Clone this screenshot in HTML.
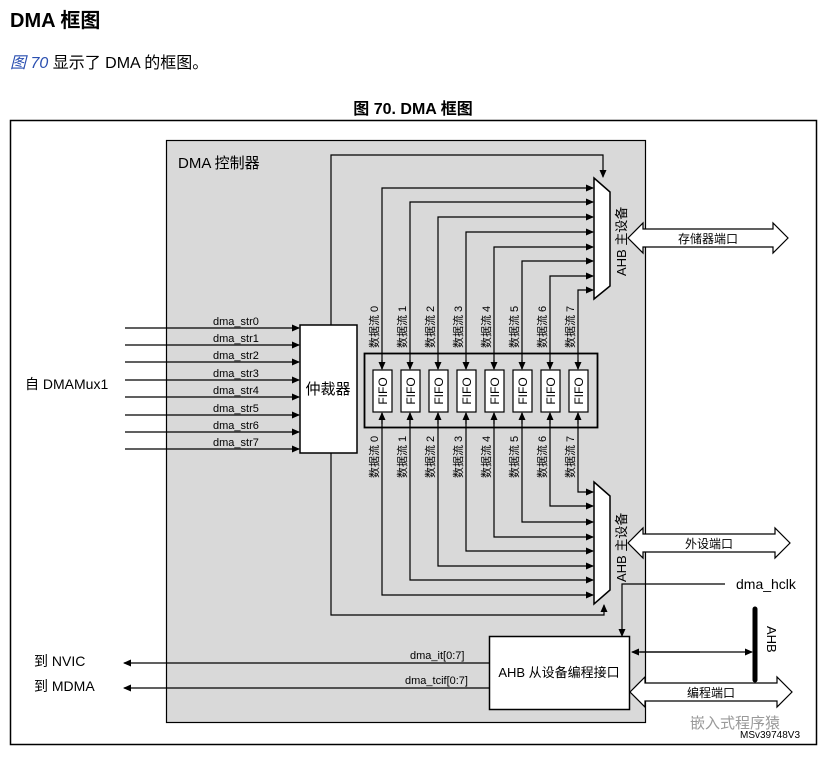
<!DOCTYPE html>
<html><head><meta charset="utf-8"><style>
body{margin:0;background:#fff;width:837px;height:758px;overflow:hidden}
svg text{font-family:"Liberation Sans","Noto Sans CJK SC",sans-serif}
</style></head><body>
<svg width="837" height="758" viewBox="0 0 837 758" xmlns="http://www.w3.org/2000/svg">
<defs>
<marker id="a" markerWidth="8" markerHeight="8" refX="7" refY="4" orient="auto" markerUnits="userSpaceOnUse"><path d="M0,0.5 L8,4 L0,7.5z" fill="#000"/></marker>
</defs>
<text x="10" y="27" font-size="20" font-weight="bold">DMA 框图</text>
<text x="10" y="68" font-size="16"><tspan fill="#2a4fb0" font-style="italic">图 70</tspan> 显示了 DMA 的框图。</text>
<text x="413" y="114" font-size="16" font-weight="bold" text-anchor="middle">图 70. DMA 框图</text>
<rect x="10.5" y="120.5" width="806" height="624" fill="#fff" stroke="#000" stroke-width="1.5"/>
<rect x="166.5" y="140.5" width="479" height="582" fill="#d9d9d9" stroke="#000" stroke-width="1.2"/>
<text x="178" y="168" font-size="15">DMA 控制器</text>
<g stroke="#000" stroke-width="1.2" fill="none">
<line x1="125" y1="328" x2="299" y2="328" marker-end="url(#a)"/>
<line x1="125" y1="345" x2="299" y2="345" marker-end="url(#a)"/>
<line x1="125" y1="362" x2="299" y2="362" marker-end="url(#a)"/>
<line x1="125" y1="380" x2="299" y2="380" marker-end="url(#a)"/>
<line x1="125" y1="397" x2="299" y2="397" marker-end="url(#a)"/>
<line x1="125" y1="415" x2="299" y2="415" marker-end="url(#a)"/>
<line x1="125" y1="432" x2="299" y2="432" marker-end="url(#a)"/>
<line x1="125" y1="449" x2="299" y2="449" marker-end="url(#a)"/>
<path d="M331,325 V155 H603 V177" marker-end="url(#a)"/>
<path d="M331,453 V615 H604 V605" marker-end="url(#a)"/>
<path d="M382,369 V188 H593" marker-end="url(#a)"/>
<path d="M410,369 V202 H593" marker-end="url(#a)"/>
<path d="M438,369 V217 H593" marker-end="url(#a)"/>
<path d="M466,369 V232 H593" marker-end="url(#a)"/>
<path d="M494,369 V247 H593" marker-end="url(#a)"/>
<path d="M522,369 V261 H593" marker-end="url(#a)"/>
<path d="M550,369 V276 H593" marker-end="url(#a)"/>
<path d="M578,369 V290 H593" marker-end="url(#a)"/>
<line x1="382" y1="360" x2="382" y2="369" marker-end="url(#a)"/>
<line x1="410" y1="360" x2="410" y2="369" marker-end="url(#a)"/>
<line x1="438" y1="360" x2="438" y2="369" marker-end="url(#a)"/>
<line x1="466" y1="360" x2="466" y2="369" marker-end="url(#a)"/>
<line x1="494" y1="360" x2="494" y2="369" marker-end="url(#a)"/>
<line x1="522" y1="360" x2="522" y2="369" marker-end="url(#a)"/>
<line x1="550" y1="360" x2="550" y2="369" marker-end="url(#a)"/>
<line x1="578" y1="360" x2="578" y2="369" marker-end="url(#a)"/>
<path d="M382,413 V595 H593" marker-end="url(#a)"/>
<path d="M410,413 V580 H593" marker-end="url(#a)"/>
<path d="M438,413 V566 H593" marker-end="url(#a)"/>
<path d="M466,413 V551 H593" marker-end="url(#a)"/>
<path d="M494,413 V537 H593" marker-end="url(#a)"/>
<path d="M522,413 V522 H593" marker-end="url(#a)"/>
<path d="M550,413 V506 H593" marker-end="url(#a)"/>
<path d="M578,413 V492 H593" marker-end="url(#a)"/>
<line x1="382" y1="424" x2="382" y2="413" marker-end="url(#a)"/>
<line x1="410" y1="424" x2="410" y2="413" marker-end="url(#a)"/>
<line x1="438" y1="424" x2="438" y2="413" marker-end="url(#a)"/>
<line x1="466" y1="424" x2="466" y2="413" marker-end="url(#a)"/>
<line x1="494" y1="424" x2="494" y2="413" marker-end="url(#a)"/>
<line x1="522" y1="424" x2="522" y2="413" marker-end="url(#a)"/>
<line x1="550" y1="424" x2="550" y2="413" marker-end="url(#a)"/>
<line x1="578" y1="424" x2="578" y2="413" marker-end="url(#a)"/>
<path d="M725,584 H622 V636" marker-end="url(#a)"/>
<line x1="489" y1="663" x2="124" y2="663" marker-end="url(#a)"/>
<line x1="489" y1="688" x2="124" y2="688" marker-end="url(#a)"/>
<line x1="640" y1="652" x2="752" y2="652" marker-end="url(#a)"/>
<line x1="700" y1="652" x2="632" y2="652" marker-end="url(#a)"/>
</g>
<rect x="300" y="325" width="57" height="128" fill="#fff" stroke="#000" stroke-width="1.5"/>
<text x="328" y="394" font-size="15" text-anchor="middle">仲裁器</text>
<rect x="364.5" y="353.5" width="233" height="74" fill="none" stroke="#000" stroke-width="1.8"/>
<g fill="#fff" stroke="#000" stroke-width="1.2">
<rect x="373" y="370" width="19" height="42"/><rect x="401" y="370" width="19" height="42"/>
<rect x="429" y="370" width="19" height="42"/><rect x="457" y="370" width="19" height="42"/>
<rect x="485" y="370" width="19" height="42"/><rect x="513" y="370" width="19" height="42"/>
<rect x="541" y="370" width="19" height="42"/><rect x="569" y="370" width="19" height="42"/>
</g>
<g font-size="12">
<text transform="translate(387,391) rotate(-90)" text-anchor="middle">FIFO</text>
<text transform="translate(415,391) rotate(-90)" text-anchor="middle">FIFO</text>
<text transform="translate(443,391) rotate(-90)" text-anchor="middle">FIFO</text>
<text transform="translate(471,391) rotate(-90)" text-anchor="middle">FIFO</text>
<text transform="translate(499,391) rotate(-90)" text-anchor="middle">FIFO</text>
<text transform="translate(527,391) rotate(-90)" text-anchor="middle">FIFO</text>
<text transform="translate(555,391) rotate(-90)" text-anchor="middle">FIFO</text>
<text transform="translate(583,391) rotate(-90)" text-anchor="middle">FIFO</text>
</g>
<g font-size="11">
<text transform="translate(378,348) rotate(-90)">数据流 0</text>
<text transform="translate(406,348) rotate(-90)">数据流 1</text>
<text transform="translate(434,348) rotate(-90)">数据流 2</text>
<text transform="translate(462,348) rotate(-90)">数据流 3</text>
<text transform="translate(490,348) rotate(-90)">数据流 4</text>
<text transform="translate(518,348) rotate(-90)">数据流 5</text>
<text transform="translate(546,348) rotate(-90)">数据流 6</text>
<text transform="translate(574,348) rotate(-90)">数据流 7</text>
<text transform="translate(378,478) rotate(-90)">数据流 0</text>
<text transform="translate(406,478) rotate(-90)">数据流 1</text>
<text transform="translate(434,478) rotate(-90)">数据流 2</text>
<text transform="translate(462,478) rotate(-90)">数据流 3</text>
<text transform="translate(490,478) rotate(-90)">数据流 4</text>
<text transform="translate(518,478) rotate(-90)">数据流 5</text>
<text transform="translate(546,478) rotate(-90)">数据流 6</text>
<text transform="translate(574,478) rotate(-90)">数据流 7</text>
</g>
<path d="M594,178 L610,192 V286 L594,299 Z" fill="#fff" stroke="#000" stroke-width="1.5"/>
<path d="M594,482 L610,496 V590 L594,604 Z" fill="#fff" stroke="#000" stroke-width="1.5"/>
<text transform="translate(626,276) rotate(-90)" font-size="13">AHB 主设备</text>
<text transform="translate(626,582) rotate(-90)" font-size="13">AHB 主设备</text>
<g fill="#fff" stroke="#000" stroke-width="1.2">
<path d="M628,238 L643,223 V229 H773 V223 L788,238 L773,253 V247 H643 V253 Z"/>
<path d="M628,543 L643,528 V534 H775 V528 L790,543 L775,558 V552 H643 V558 Z"/>
<path d="M630,692 L645,677 V683 H777 V677 L792,692 L777,707 V701 H645 V707 Z"/>
</g>
<text x="708" y="243" font-size="12" text-anchor="middle">存储器端口</text>
<text x="709" y="548" font-size="12" text-anchor="middle">外设端口</text>
<text x="711" y="697" font-size="12" text-anchor="middle">编程端口</text>
<line x1="755" y1="609" x2="755" y2="680" stroke="#000" stroke-width="5" stroke-linecap="round"/>
<text transform="translate(767,626) rotate(90)" font-size="13">AHB</text>
<text x="736" y="589" font-size="14">dma_hclk</text>
<rect x="489.5" y="636.5" width="140" height="73" fill="#fff" stroke="#000" stroke-width="1.5"/>
<text x="559" y="677" font-size="13" text-anchor="middle">AHB 从设备编程接口</text>
<g font-size="11">
<text x="410" y="659">dma_it[0:7]</text>
<text x="405" y="684">dma_tcif[0:7]</text>
<text x="213" y="325">dma_str0</text><text x="213" y="342">dma_str1</text>
<text x="213" y="359">dma_str2</text><text x="213" y="377">dma_str3</text>
<text x="213" y="394">dma_str4</text><text x="213" y="412">dma_str5</text>
<text x="213" y="429">dma_str6</text><text x="213" y="446">dma_str7</text>
</g>
<text x="25" y="389" font-size="14">自 DMAMux1</text>
<text x="34" y="666" font-size="14">到 NVIC</text>
<text x="34" y="691" font-size="14">到 MDMA</text>
<text x="690" y="728" font-size="15" fill="#999">嵌入式程序猿</text>
<text x="740" y="738" font-size="10">MSv39748V3</text>
</svg>
</body></html>
